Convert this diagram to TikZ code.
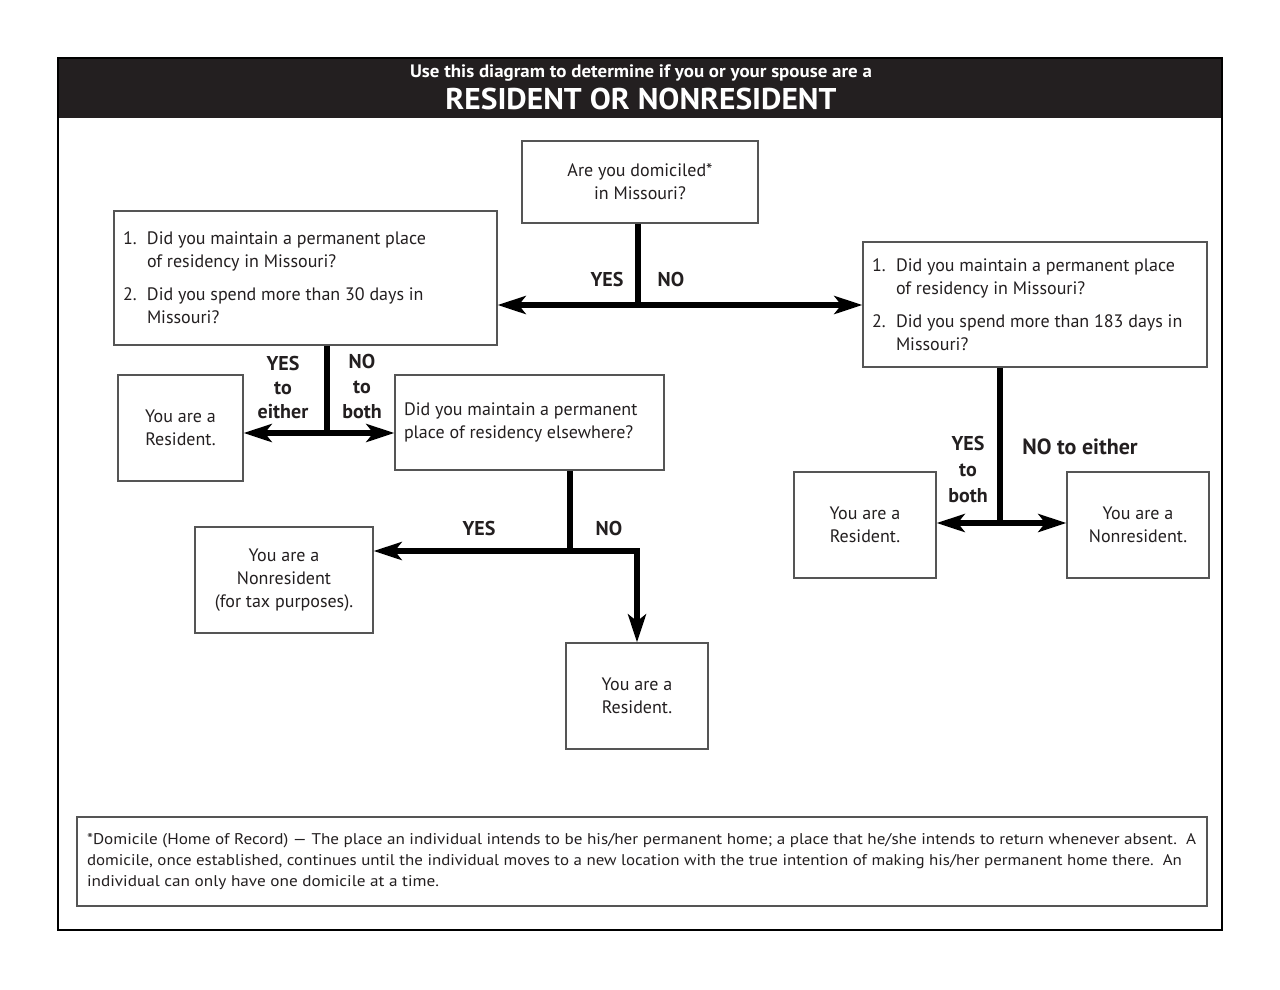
\documentclass[tikz,border=0pt]{standalone}
\usepackage{fontspec}
\setmainfont{PT Sans}
\usetikzlibrary{arrows.meta}
\definecolor{ink}{HTML}{231F20}
\definecolor{boxline}{HTML}{555555}
\begin{document}
\begin{tikzpicture}[x=1pt,y=-1pt,
  box/.style={draw=boxline, line width=1.3pt, rectangle, inner sep=0pt, align=center,
    text=ink, font=\fontsize{18}{23}\selectfont},
  listbox/.style={box, align=left},
  lab/.style={text=ink, font=\bfseries\fontsize{20}{24}\selectfont, align=center, inner sep=0pt},
  conn/.style={draw=black, line width=6pt},
  arr/.style={conn, -{Stealth[length=28pt,width=18pt,inset=7pt]}},
]
\useasboundingbox (0,0) rectangle (1280,989);
\fill[white] (0,0) rectangle (1280,989);
% frame
\fill[ink] (58,58) rectangle (1222,118);
\draw[black, line width=2pt] (58,58) rectangle (1222,930);
\node[text=white, inner sep=0pt] (t1) at (641,73)
  {\resizebox{462pt}{\height}{\bfseries\fontsize{18}{20}\selectfont Use this diagram to determine if you or your spouse are a}};
\node[text=white, inner sep=0pt] (t2) at (641,99)
  {\resizebox{391pt}{\height}{\bfseries\fontsize{30}{32}\selectfont RESIDENT OR NONRESIDENT}};

% boxes
\node[box, minimum width=236pt, minimum height=82pt] (q0) at (640,182)
  {Are you domiciled*\\in Missouri?};
\node[listbox, minimum width=383pt, minimum height=134pt] (l1) at (305.5,278)
  {\begin{minipage}{365pt}\raggedright
   \makebox[24pt][l]{1.}Did you maintain a permanent place\\
   \makebox[24pt][l]{}of residency in Missouri?\\[10pt]
   \makebox[24pt][l]{2.}Did you spend more than 30 days in\\
   \makebox[24pt][l]{}Missouri?\end{minipage}};
\node[listbox, minimum width=344pt, minimum height=125pt] (r1) at (1035,304.5)
  {\begin{minipage}{326pt}\raggedright
   \makebox[24pt][l]{1.}Did you maintain a permanent place\\
   \makebox[24pt][l]{}of residency in Missouri?\\[10pt]
   \makebox[24pt][l]{2.}Did you spend more than 183 days in\\
   \makebox[24pt][l]{}Missouri?\end{minipage}};
\node[box, minimum width=125pt, minimum height=106pt] (res1) at (180.5,428)
  {You are a\\Resident.};
\node[box, minimum width=269pt, minimum height=95pt] (q2) at (529.5,422.5)
  {\begin{minipage}{251pt}\raggedright Did you maintain a permanent\\place of residency elsewhere?\\[12pt]\end{minipage}};
\node[box, minimum width=178pt, minimum height=106pt] (nr1) at (284,580)
  {You are a\\Nonresident\\(for tax purposes).};
\node[box, minimum width=142pt, minimum height=106pt] (res2) at (637,696)
  {You are a\\Resident.};
\node[box, minimum width=142pt, minimum height=106pt] (res3) at (865,525)
  {You are a\\Resident.};
\node[box, minimum width=142pt, minimum height=106pt] (nr2) at (1138,525)
  {You are a\\Nonresident.};

% footnote
\node[draw=boxline, line width=1.3pt, rectangle, minimum width=1130pt, minimum height=89pt,
  inner sep=0pt, text=ink, font=\fontsize{15.5}{21}\selectfont, align=left] (fn) at (642,861.5)
  {\begin{minipage}{1110pt}
   \resizebox{1109pt}{\height}{*Domicile (Home of Record) --- The place an individual intends to be his/her permanent home; a place that he/she intends to return whenever absent.\ \ A}\\
   \resizebox{1095pt}{\height}{domicile, once established, continues until the individual moves to a new location with the true intention of making his/her permanent home there.\ \ An}\\
   \resizebox{352pt}{\height}{individual can only have one domicile at a time.}
   \end{minipage}};

% junctions
\coordinate (j0) at (638,305);
\coordinate (j1) at (327,433);
\coordinate (j2) at (570,551);
\coordinate (j3) at (1000,523);

% connectors
\draw[conn] (q0.south -| j0) -- (j0);
\draw[arr] (j0) -- (j0 -| l1.east);
\draw[arr] (j0) -- (j0 -| r1.west);

\draw[conn] (l1.south -| j1) -- (j1);
\draw[arr] (j1) -- (j1 -| res1.east);
\draw[arr] (j1) -- (j1 -| q2.west);

\draw[conn] (q2.south -| j2) -- (j2);
\draw[arr] (j2) -- (j2 -| nr1.east);
\draw[arr] (j2) -| (res2.north);

\draw[conn] (r1.south -| j3) -- (j3);
\draw[arr] (j3) -- (j3 -| res3.east);
\draw[arr] (j3) -- (j3 -| nr2.west);

% labels
\node[lab] (ly0) at (607,279) {YES};
\node[lab] (ln0) at (671,279) {NO};
\node[lab, font=\bfseries\fontsize{20}{24}\selectfont] (ly1) at (283,387) {YES\\to\\either};
\node[lab, font=\bfseries\fontsize{20}{25}\selectfont] (ln1) at (362,386) {NO\\to\\both};
\node[lab] (ly2) at (479,528) {YES};
\node[lab] (ln2) at (609,528) {NO};
\node[lab, font=\bfseries\fontsize{20}{26}\selectfont] (ly3) at (968,469) {YES\\to\\both};
\node[lab, font=\bfseries\fontsize{22}{26}\selectfont] (ln3) at (1080,447) {NO to either};
\end{tikzpicture}
\end{document}
